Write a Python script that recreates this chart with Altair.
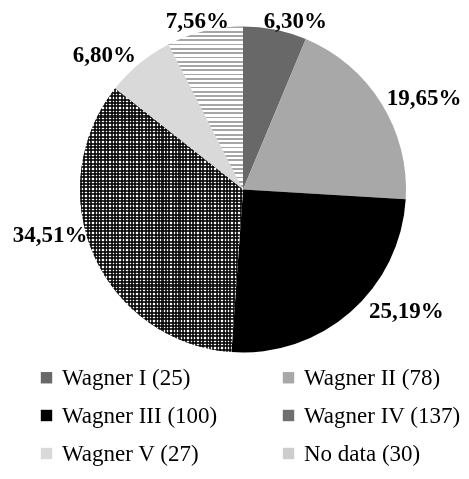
import altair as alt
import pandas as pd

categories = ["Wagner I (25)", "Wagner II (78)", "Wagner III (100)",
              "Wagner IV (137)", "Wagner V (27)", "No data (30)"]
counts = [25, 78, 100, 137, 27, 30]
pct_labels = ["6,30%", "19,65%", "25,19%", "34,51%", "6,80%", "7,56%"]
colors = ["#686868", "#a8a8a8", "#000000", "#6f6f6f", "#d9d9d9", "#cdcdcd"]

df = pd.DataFrame({"cat": categories, "n": counts, "lab": pct_labels,
                   "ord": list(range(len(categories)))})

CX, CY, R = 235, 181.5, 163
LABEL_R = 190
# per-label nudges (dx, dy) away from the slice mid-angle, like Excel's best fit
nudges = {"6,30%": (15, 18), "19,65%": (20, 9), "25,19%": (38, -21),
          "34,51%": (-19, -31), "6,80%": (-18, 12), "7,56%": (-1, 16)}


def stripes(n, dark, light, frac_dark, vertical=False):
    stops = []
    for i in range(n):
        a = i / n
        b = (i + frac_dark) / n
        c = (i + 1) / n
        stops += [alt.GradientStop(offset=a, color=dark),
                  alt.GradientStop(offset=b, color=dark),
                  alt.GradientStop(offset=b, color=light),
                  alt.GradientStop(offset=c, color=light)]
    if vertical:
        return alt.LinearGradient(gradient="linear", x1=0, x2=1, y1=0, y2=0, stops=stops)
    return alt.LinearGradient(gradient="linear", x1=0, x2=0, y1=0, y2=1, stops=stops)


base = alt.Chart(df).encode(
    theta=alt.Theta("n:Q", stack=True),
    order=alt.Order("ord:Q"),
    x=alt.value(CX),
    y=alt.value(CY),
)

pie = base.mark_arc(outerRadius=R).encode(
    color=alt.Color(
        "cat:N", sort=categories,
        scale=alt.Scale(domain=categories, range=colors),
        legend=alt.Legend(
            orient="none", legendX=27, legendY=358, columns=2, direction="horizontal",
            title=None,
            symbolType="square", symbolSize=130, symbolStrokeWidth=0,
            labelFont="Liberation Serif", labelFontSize=23, labelColor="black",
            labelLimit=0, columnPadding=59, rowPadding=14, labelOffset=4,
        ),
    )
)

nodata = base.mark_arc(outerRadius=R, fill=stripes(38, "#a6a6a6", "#ffffff", 0.42)).encode(
    opacity=alt.condition("datum.cat == 'No data (30)'", alt.value(1), alt.value(0))
)

w4_v = base.mark_arc(outerRadius=R, fill=stripes(48, "#333333", "#ffffff", 0.6, vertical=True)).encode(
    opacity=alt.condition("datum.cat == 'Wagner IV (137)'", alt.value(1), alt.value(0))
)
w4_h = base.mark_arc(outerRadius=R, blend="multiply",
                     fill=stripes(78, "#333333", "#ffffff", 0.6)).encode(
    opacity=alt.condition("datum.cat == 'Wagner IV (137)'", alt.value(1), alt.value(0))
)

label_layers = []
for lab in pct_labels:
    dx, dy = nudges[lab]
    label_layers.append(
        base.mark_text(radius=LABEL_R, font="Liberation Serif", fontWeight="bold",
                       fontSize=23, color="black", dx=dx, dy=dy)
        .encode(text="lab:N",
                opacity=alt.condition(f"datum.lab == '{lab}'", alt.value(1), alt.value(0)))
    )

chart = alt.layer(pie, nodata, w4_v, w4_h, *label_layers).properties(
    width=453, height=463, padding=0, autosize="none"
).configure_view(stroke=None)

chart.save("out.html", embed_options={"renderer": "svg", "actions": False})
